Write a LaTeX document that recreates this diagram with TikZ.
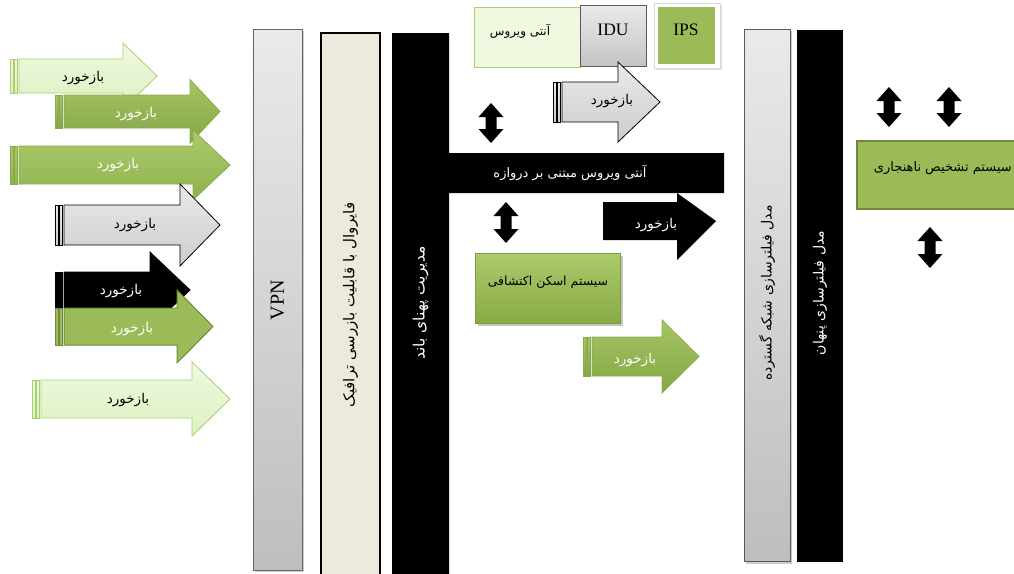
\documentclass[tikz,border=0pt]{standalone}
\usepackage{fontspec}
\setmainfont{Liberation Serif}
\newfontfamily\fa[Script=Arabic]{DejaVu Sans}
\TeXXeTstate=1
\definecolor{grn}{HTML}{9BBB59}
\definecolor{grndk}{HTML}{71893F}
\definecolor{beige}{HTML}{ECE9DD}
\definecolor{lg1}{HTML}{EFF9E0}
\definecolor{lg2}{HTML}{DDF1C0}
\definecolor{lgd}{HTML}{A9CF6E}
\definecolor{g1}{HTML}{A6C565}
\definecolor{g2}{HTML}{84A643}
\definecolor{g3}{HTML}{8AAA4C}
\definecolor{g4}{HTML}{ABCB6B}
\definecolor{g5}{HTML}{8FB24E}
\definecolor{gy1}{HTML}{EAEAEA}
\definecolor{gy2}{HTML}{CCCCCC}
\definecolor{gy3}{HTML}{BEBEBE}
\definecolor{gy4}{HTML}{C4C4C4}
\definecolor{sc1}{HTML}{ABCB6B}
\definecolor{sc2}{HTML}{89AB46}
\definecolor{sc3}{HTML}{7C9B3E}
\newcommand\fatext[1]{\fa\beginR #1\endR}
% #1 x0, #2 x head start, #3 x tip, #4 y centre, #5 body half height, #6 head half height, #7 style
\newcommand\striparrow[7]{%
  \path[#7] (#1,{#4-#5}) rectangle ({#1+3},{#4+#5});
  \path[#7] ({#1+4.5},{#4-#5}) rectangle ({#1+7.5},{#4+#5});
  \path[#7] ({#1+9},{#4-#5}) -- (#2,{#4-#5}) -- (#2,{#4-#6}) -- (#3,#4)
     -- (#2,{#4+#6}) -- (#2,{#4+#5}) -- ({#1+9},{#4+#5}) -- cycle;}
% #1 x centre, #2 y top, #3 y bottom
\newcommand\dblarrow[3]{%
  \fill[black] (#1,#2) -- ({#1+12.5},{#2+14}) -- ({#1+5.5},{#2+14}) -- ({#1+5.5},{#3-14})
    -- ({#1+12.5},{#3-14}) -- (#1,#3) -- ({#1-12.5},{#3-14}) -- ({#1-5.5},{#3-14})
    -- ({#1-5.5},{#2+14}) -- ({#1-12.5},{#2+14}) -- cycle;}
\begin{document}
\begin{tikzpicture}[x=1pt,y=-1pt,
  alight/.style={top color=lg1, bottom color=lg2, draw=lgd, line width=0.8pt},
  agreen/.style={top color=g1, bottom color=g2, draw=g3, line width=0.8pt},
  agreenb/.style={top color=g4, bottom color=g5, draw=g3, line width=0.8pt},
  agray/.style={top color=gy1, bottom color=gy2, draw=black, line width=0.8pt},
  ablack/.style={fill=black, draw=black, line width=0.8pt},
  aflat/.style={fill=grn, draw=grndk, line width=1pt},
  lbl/.style={inner sep=0pt, font=\fontsize{13.5}{15}\selectfont},
  vtext/.style={inner sep=0pt, rotate=90, font=\fontsize{15}{17}\selectfont},
  latin/.style={inner sep=0pt, font=\fontsize{17.5}{20}\selectfont},
]
\useasboundingbox (0,0) rectangle (1014,573);
\fill[white] (0,0) rectangle (1014,573);

% ---- left feedback arrows
\striparrow{10}{123}{157}{76}{17}{33}{alight}
\node[lbl] (t1) at (83,78) {\fatext{بازخورد}};
\striparrow{55}{190}{220}{111.5}{16.5}{32}{agreen}
\node[lbl, text=white] (t2) at (136,114) {\fatext{بازخورد}};
\striparrow{10}{193}{230}{165}{19}{35}{agreenb}
\node[lbl, text=white] (t3) at (118,165) {\fatext{بازخورد}};
\striparrow{55}{180}{220}{225}{20}{41}{agray}
\node[lbl] (t4) at (135,225) {\fatext{بازخورد}};
\striparrow{55}{150}{190}{290}{18}{38}{ablack}
\node[lbl, text=white] (t5) at (121,291) {\fatext{بازخورد}};
\striparrow{55}{177}{213}{326.5}{18.5}{36.5}{aflat}
\node[lbl, text=white] (t6) at (132,329) {\fatext{بازخورد}};
\striparrow{32}{192}{230}{399}{19}{37}{alight}
\node[lbl] (t7) at (128,400) {\fatext{بازخورد}};

% ---- vertical bars
\fill[gray!40] (255,31) rectangle (304,572);
\draw[top color=gy1, bottom color=gy3, draw=gray!80!black, line width=0.8pt] (253,29) rectangle (302,570);
\node[latin, rotate=90, font=\fontsize{20}{22}\selectfont] (vpn) at (277.5,300) {VPN};
\draw[fill=beige, draw=black, line width=1.5pt] (321,33) rectangle (380,576);
\node[vtext] (fw) at (350.5,305) {\fatext{فایروال با قابلیت بازرسی ترافیک}};
\fill[black] (392,33) -- (449,33) -- (449,153) -- (724,153) -- (724,193) -- (449,193) -- (449,576) -- (392,576) -- cycle;
\node[vtext, text=white, font=\fontsize{15.5}{17}\selectfont] (bw) at (420.5,303) {\fatext{مدیریت پهنای باند}};
\node[lbl, text=white, font=\fontsize{13}{15}\selectfont] (gw) at (570,173) {\fatext{آنتی ویروس مبتنی بر دروازه}};

% ---- top boxes
\draw[fill=lg1, draw=lgd, line width=1pt] (474,7) rectangle (580,67);
\node[lbl, font=\fontsize{12}{14}\selectfont] (av) at (520,31) {\fatext{آنتی ویروس}};
\draw[top color=gy1, bottom color=gy4, draw=gray!70!black, line width=0.8pt] (580,5) rectangle (646,66);
\node[latin] (idu) at (613,30) {IDU};
\fill[gray!25] (656,5) rectangle (722,70);
\draw[fill=white, draw=gray!30] (654,3) rectangle (720,68);
\fill[grn] (658,7) rectangle (715,64);
\node[latin] (ips) at (686,30) {IPS};

% ---- middle arrows
\striparrow{553}{618}{660}{102}{20}{40}{agray}
\node[lbl] (t8) at (612,101) {\fatext{بازخورد}};
\fill[black] (603,202) -- (677,202) -- (677,193) -- (716,221) -- (677,260) -- (677,240) -- (603,240) -- cycle;
\node[lbl, text=white] (t9) at (656,225) {\fatext{بازخورد}};
\striparrow{583}{662}{699}{356.5}{19.5}{36.5}{agreen}
\node[lbl, text=white] (t10) at (635,360) {\fatext{بازخورد}};

% scan box
\fill[gray!45] (478,256) rectangle (623,326);
\draw[top color=sc1, bottom color=sc2, draw=sc3, line width=0.8pt] (475,253) rectangle (620,323);
\node[lbl, font=\fontsize{12.5}{14}\selectfont] (scan) at (548,282) {\fatext{سیستم اسکن اکتشافی}};

% ---- right bars
\fill[gray!40] (746,31) rectangle (792,564);
\draw[top color=gy1, bottom color=gy3, draw=gray!70!black, line width=0.8pt] (744,29) rectangle (790,561);
\node[vtext, font=\fontsize{14}{16}\selectfont] (wf) at (767,293) {\fatext{مدل فیلترسازی شبکه گسترده}};
\fill[black] (797,30) rectangle (843,562);
\node[vtext, text=white, font=\fontsize{14}{16}\selectfont] (hf) at (820,293) {\fatext{مدل فیلترسازی پنهان}};

% anomaly box
\draw[fill=grn, draw=grndk, line width=1.2pt] (857,141) rectangle (1030,209);
\node[lbl, font=\fontsize{13}{15}\selectfont, anchor=east] (an) at (1012,168) {\fatext{سیستم تشخیص ناهنجاری}};

% ---- double arrows
\dblarrow{491}{103}{143}
\dblarrow{506}{202}{243}
\dblarrow{889}{87}{127}
\dblarrow{949}{87}{127}
\dblarrow{930}{227}{268}
\end{tikzpicture}
\end{document}
